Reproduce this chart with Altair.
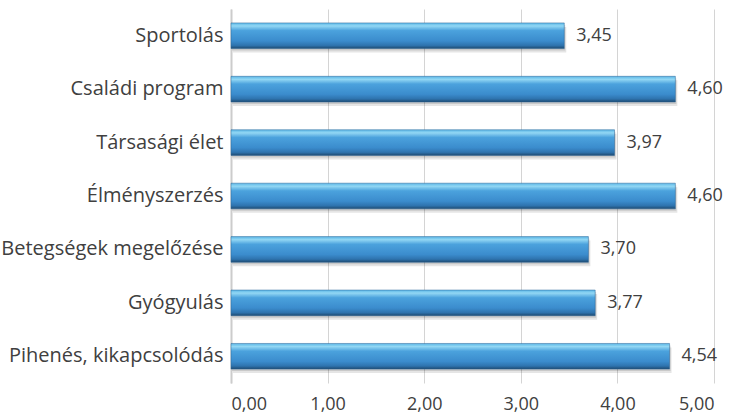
import altair as alt
import pandas as pd

categories = [
    "Sportolás",
    "Családi program",
    "Társasági élet",
    "Élményszerzés",
    "Betegségek megelőzése",
    "Gyógyulás",
    "Pihenés, kikapcsolódás",
]
values = [3.45, 4.60, 3.97, 4.60, 3.70, 3.77, 4.54]

df = pd.DataFrame({
    "cat": categories,
    "val": values,
    "label": [f"{v:.2f}".replace(".", ",") for v in values],
})

FONT = "Open Sans"
TEXT = "#404040"

y_enc = alt.Y("cat:N", sort=categories, title=None,
              scale=alt.Scale(paddingInner=0.52, paddingOuter=0.26))
x_enc = alt.X("val:Q", title=None,
              scale=alt.Scale(domain=[0, 5], nice=False),
              axis=alt.Axis(values=[0, 1, 2, 3, 4, 5],
                            labelExpr="replace(format(datum.value, '.2f'), '.', ',')"))

base = alt.Chart(df)

# soft drop shadow under each bar
shadow1 = base.mark_bar(color="#000000", opacity=0.10, yOffset=4, xOffset=2).encode(x=x_enc, y=y_enc)
shadow2 = base.mark_bar(color="#000000", opacity=0.12, yOffset=2, xOffset=1).encode(x=x_enc, y=y_enc)

bars = base.mark_bar(
    color=alt.Gradient(
        gradient="linear", x1=0, y1=0, x2=0, y2=1,
        stops=[
            alt.GradientStop(offset=0.0, color="#5ab6e6"),
            alt.GradientStop(offset=0.12, color="#92d7f4"),
            alt.GradientStop(offset=0.3, color="#4ba2dd"),
            alt.GradientStop(offset=0.7, color="#3b8ccd"),
            alt.GradientStop(offset=0.88, color="#2e73ae"),
            alt.GradientStop(offset=1.0, color="#1e4a70"),
        ],
    ),
    stroke="#2a6496", strokeWidth=0.5,
).encode(x=x_enc, y=y_enc)

labels = base.mark_text(align="left", dx=12, font=FONT, fontSize=18, color=TEXT).encode(
    x="val:Q", y=alt.Y("cat:N", sort=categories), text="label:N"
)

chart = (shadow1 + shadow2 + bars + labels).properties(
    width=483, height=374,
    padding={"left": 231, "top": 9, "right": 17, "bottom": 31},
    autosize=alt.AutoSizeParams(type="none"),
).configure_view(stroke=None).configure_axisY(
    labelFont=FONT, labelFontSize=20, labelColor=TEXT, labelPadding=8,
    ticks=False, domainColor="#cccccc", domainWidth=2, grid=False, labelLimit=300,
).configure_axisX(
    labelFont=FONT, labelFontSize=18, labelColor=TEXT, labelPadding=12,
    ticks=False, domain=False, grid=True, gridColor="#d4d4d4", gridWidth=1,
)

chart.save("out.html", embed_options={"renderer": "svg", "actions": False})
